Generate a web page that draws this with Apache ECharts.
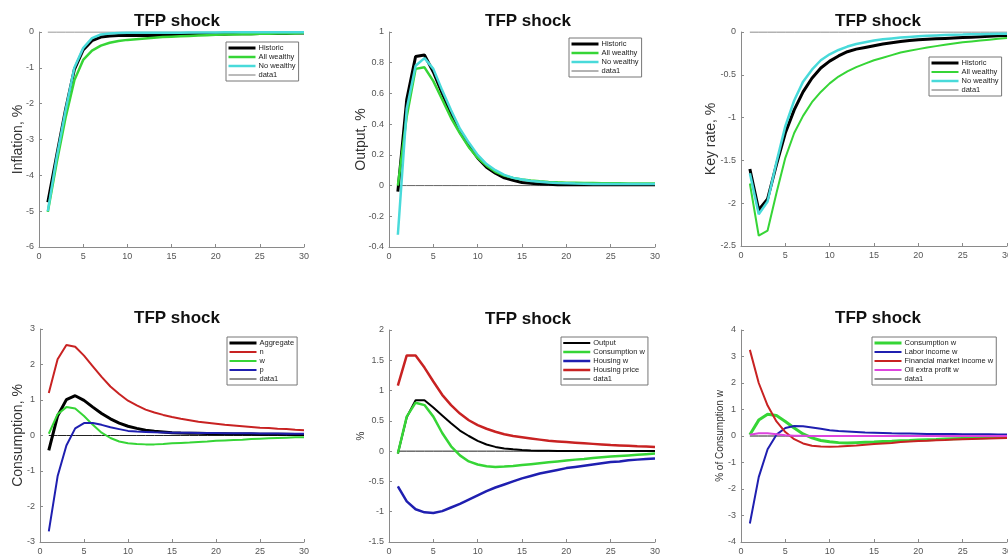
<!DOCTYPE html>
<html>
<head>
<meta charset="utf-8">
<script src="https://cdn.jsdelivr.net/npm/echarts@6/dist/echarts.min.js"></script>
<style>html,body{margin:0;padding:0;background:#fff}#c{width:1008px;height:558px}</style>
</head>
<body>
<div id="c"></div>
<script>
const periods = [1,2,3,4,5,6,7,8,9,10,11,12,13,14,15,16,17,18,19,20,21,22,23,24,25,26,27,28,29,30];
const xTicks = [0,5,10,15,20,25,30];
const zeroLine = [0,0,0,0,0,0,0,0,0,0,0,0,0,0,0,0,0,0,0,0,0,0,0,0,0,0,0,0,0,0];

// Panel 1: Inflation
const inflHistoric = [-4.75,-3.45,-2.17,-1.05,-0.5,-0.24,-0.14,-0.11,-0.1,-0.1,-0.1,-0.1,-0.1,-0.09,-0.09,-0.08,-0.08,-0.07,-0.07,-0.06,-0.06,-0.05,-0.05,-0.05,-0.04,-0.04,-0.04,-0.04,-0.03,-0.03];
const inflAllWealthy = [-5.02,-3.65,-2.4,-1.35,-0.78,-0.52,-0.38,-0.3,-0.25,-0.22,-0.2,-0.18,-0.16,-0.14,-0.13,-0.12,-0.11,-0.1,-0.09,-0.08,-0.07,-0.07,-0.06,-0.06,-0.05,-0.05,-0.04,-0.04,-0.04,-0.03];
const inflNoWealthy = [-5.0,-3.5,-2.2,-1.0,-0.45,-0.17,-0.07,-0.04,-0.03,-0.02,-0.02,-0.02,-0.02,-0.02,-0.02,-0.02,-0.015,-0.015,-0.015,-0.015,-0.01,-0.01,-0.01,-0.01,-0.01,-0.01,-0.01,-0.01,-0.01,-0.01];

// Panel 2: Output
const outHistoric = [-0.04,0.56,0.84,0.85,0.74,0.6,0.47,0.35,0.26,0.18,0.12,0.08,0.05,0.035,0.02,0.015,0.01,0.008,0.006,0.005,0.005,0.005,0.005,0.005,0.005,0.005,0.005,0.005,0.005,0.005];
const outAllWealthy = [0.0,0.45,0.76,0.77,0.68,0.56,0.44,0.34,0.25,0.18,0.13,0.09,0.065,0.05,0.04,0.033,0.028,0.024,0.021,0.019,0.018,0.017,0.016,0.015,0.015,0.015,0.014,0.014,0.014,0.014];
const outNoWealthy = [-0.32,0.5,0.78,0.83,0.76,0.62,0.49,0.37,0.28,0.2,0.14,0.1,0.07,0.05,0.04,0.03,0.025,0.02,0.017,0.015,0.013,0.012,0.011,0.01,0.01,0.01,0.01,0.01,0.01,0.01];

// Panel 3: Key rate
const rateHistoric = [-1.6,-2.08,-1.95,-1.55,-1.18,-0.91,-0.7,-0.54,-0.42,-0.34,-0.28,-0.23,-0.2,-0.18,-0.16,-0.14,-0.125,-0.11,-0.1,-0.09,-0.085,-0.08,-0.075,-0.07,-0.065,-0.06,-0.055,-0.05,-0.045,-0.04];
const rateAllWealthy = [-1.77,-2.38,-2.32,-1.88,-1.47,-1.18,-0.98,-0.82,-0.7,-0.6,-0.52,-0.46,-0.41,-0.37,-0.33,-0.3,-0.27,-0.24,-0.22,-0.2,-0.18,-0.165,-0.15,-0.135,-0.12,-0.11,-0.1,-0.09,-0.08,-0.07];
const rateNoWealthy = [-1.65,-2.13,-1.98,-1.52,-1.1,-0.8,-0.58,-0.44,-0.33,-0.26,-0.21,-0.17,-0.14,-0.12,-0.1,-0.085,-0.075,-0.065,-0.057,-0.05,-0.045,-0.04,-0.036,-0.032,-0.03,-0.027,-0.025,-0.023,-0.021,-0.02];

// Panel 4: Consumption
const consAggregate = [-0.42,0.55,1.01,1.12,0.99,0.8,0.62,0.47,0.35,0.26,0.2,0.15,0.12,0.1,0.08,0.07,0.065,0.06,0.055,0.05,0.048,0.045,0.042,0.04,0.038,0.036,0.034,0.032,0.03,0.03];
const consN = [1.2,2.15,2.55,2.5,2.25,1.95,1.65,1.38,1.17,0.98,0.85,0.73,0.65,0.58,0.52,0.47,0.43,0.39,0.36,0.33,0.3,0.28,0.26,0.24,0.22,0.21,0.19,0.18,0.16,0.15];
const consW = [0.05,0.6,0.8,0.76,0.55,0.3,0.08,-0.07,-0.17,-0.22,-0.24,-0.25,-0.25,-0.24,-0.22,-0.21,-0.2,-0.18,-0.17,-0.15,-0.14,-0.13,-0.12,-0.1,-0.09,-0.08,-0.07,-0.06,-0.05,-0.05];
const consP = [-2.7,-1.15,-0.28,0.2,0.35,0.35,0.3,0.23,0.18,0.13,0.11,0.1,0.09,0.085,0.08,0.078,0.075,0.072,0.07,0.068,0.066,0.064,0.062,0.06,0.058,0.056,0.054,0.052,0.05,0.05];

// Panel 5: %
const p5Output = [-0.04,0.56,0.84,0.84,0.72,0.59,0.46,0.34,0.25,0.17,0.11,0.07,0.045,0.03,0.02,0.012,0.008,0.006,0.004,0.003,0.002,0.002,0.002,0.002,0.002,0.002,0.002,0.002,0.002,0.002];
const p5ConsW = [-0.04,0.57,0.8,0.76,0.57,0.3,0.08,-0.07,-0.17,-0.22,-0.25,-0.26,-0.255,-0.245,-0.23,-0.215,-0.2,-0.185,-0.17,-0.155,-0.14,-0.13,-0.115,-0.1,-0.09,-0.08,-0.07,-0.06,-0.05,-0.04];
const p5HousingW = [-0.58,-0.83,-0.96,-1.01,-1.02,-0.99,-0.93,-0.87,-0.8,-0.73,-0.66,-0.6,-0.55,-0.5,-0.45,-0.41,-0.37,-0.34,-0.31,-0.28,-0.26,-0.24,-0.22,-0.2,-0.18,-0.17,-0.15,-0.14,-0.13,-0.12];
const p5HousingPrice = [1.08,1.58,1.58,1.38,1.15,0.93,0.76,0.62,0.51,0.43,0.37,0.32,0.28,0.25,0.23,0.21,0.19,0.17,0.16,0.15,0.14,0.13,0.12,0.11,0.1,0.095,0.09,0.08,0.075,0.07];

// Panel 6: % of Consumption w
const p6ConsW = [0.05,0.6,0.82,0.77,0.55,0.3,0.08,-0.07,-0.17,-0.22,-0.25,-0.26,-0.25,-0.24,-0.23,-0.21,-0.2,-0.18,-0.17,-0.15,-0.14,-0.13,-0.11,-0.1,-0.09,-0.08,-0.07,-0.06,-0.05,-0.04];
const p6Labor = [-3.3,-1.55,-0.5,0.05,0.3,0.38,0.37,0.32,0.27,0.22,0.19,0.17,0.15,0.13,0.12,0.11,0.1,0.095,0.09,0.085,0.08,0.077,0.074,0.071,0.068,0.066,0.064,0.062,0.06,0.06];
const p6Financial = [3.25,2.0,1.15,0.55,0.15,-0.12,-0.28,-0.37,-0.4,-0.41,-0.4,-0.38,-0.36,-0.33,-0.3,-0.28,-0.26,-0.23,-0.21,-0.19,-0.18,-0.16,-0.15,-0.13,-0.12,-0.11,-0.1,-0.09,-0.085,-0.08];
const p6Oil = [0.05,0.1,0.1,0.07,0.03,0.01,0.005,0,0,0,0,0,0,0,0,0,0,0,0,0,0,0,0,0,0,0,0,0,0,0];

const C = {black:'#000000', green:'#36d536', cyan:'#48dada', red:'#c82222', blue:'#1f1fb0', pink:'#dd44dd', data1:'#222222'};

const panels = [
  {grid:{left:39, top:32, width:265, height:215}, y:{min:-6, max:0, interval:1}, name:'Inflation, %', nameSize:14, nameGap:14,
   title:{x:172, y:8}, legend:{left:226, top:42},
   series:[['Historic',inflHistoric,C.black,3],['All wealthy',inflAllWealthy,C.green,2.5],['No wealthy',inflNoWealthy,C.cyan,2.5],['data1',zeroLine,'#777',1]]},
  {grid:{left:389, top:32, width:266, height:215}, y:{min:-0.4, max:1, interval:0.2}, name:'Output, %', nameSize:14, nameGap:21,
   title:{x:523, y:8}, legend:{left:569, top:38},
   series:[['Historic',outHistoric,C.black,3],['All wealthy',outAllWealthy,C.green,2.5],['No wealthy',outNoWealthy,C.cyan,2.5],['data1',zeroLine,'#666',1]]},
  {grid:{left:741, top:32, width:266, height:214}, y:{min:-2.5, max:0, interval:0.5}, name:'Key rate, %', nameSize:14, nameGap:23,
   title:{x:873, y:8}, legend:{left:929, top:57},
   series:[['Historic',rateHistoric,C.black,3],['All wealthy',rateAllWealthy,C.green,2],['No wealthy',rateNoWealthy,C.cyan,2.5],['data1',zeroLine,'#666',1]]},
  {grid:{left:40, top:329, width:264, height:213}, y:{min:-3, max:3, interval:1}, name:'Consumption, %', nameSize:14, nameGap:15,
   title:{x:172, y:305}, legend:{left:227, top:337},
   series:[['Aggregate',consAggregate,C.black,3],['n',consN,C.red,2],['w',consW,C.green,2],['p',consP,C.blue,2],['data1',zeroLine,C.data1,1]]},
  {grid:{left:389, top:330, width:266, height:212}, y:{min:-1.5, max:2, interval:0.5}, name:'%', nameSize:10, nameGap:23,
   title:{x:523, y:306}, legend:{left:561, top:337},
   series:[['Output',p5Output,C.black,2],['Consumption w',p5ConsW,C.green,2.5],['Housing w',p5HousingW,C.blue,2.5],['Housing price',p5HousingPrice,C.red,2.5],['data1',zeroLine,C.data1,1]]},
  {grid:{left:741, top:330, width:266, height:212}, y:{min:-4, max:4, interval:1}, name:'% of Consumption w', nameSize:10, nameGap:16,
   title:{x:873, y:305}, legend:{left:872, top:337},
   series:[['Consumption w',p6ConsW,C.green,3],['Labor income w',p6Labor,C.blue,2],['Financial market income w',p6Financial,C.red,2],['Oil extra profit w',p6Oil,C.pink,2],['data1',zeroLine,C.data1,1]]}
];

const FONT = 'Liberation Sans, Arial, sans-serif';
const axisCommon = {
  axisLine:{show:true, onZero:false, lineStyle:{color:'#8a8a8a', width:1}},
  axisTick:{show:true, inside:true, length:3, lineStyle:{color:'#8a8a8a'}},
  axisLabel:{color:'#555', fontSize:9, fontFamily:FONT, margin:5},
  splitLine:{show:false}
};

const option = {
  animation:false,
  backgroundColor:'#fff',
  title:[], grid:[], xAxis:[], yAxis:[], legend:[], series:[]
};

panels.forEach((p, i) => {
  option.title.push({text:'TFP shock', left:p.title.x, top:p.title.y, textAlign:'center',
    textStyle:{fontSize:17, fontWeight:'bold', color:'#111', fontFamily:FONT}});
  option.grid.push(Object.assign({containLabel:false, outerBoundsMode:'none'}, p.grid));
  option.xAxis.push(Object.assign({type:'value', gridIndex:i, min:xTicks[0], max:xTicks[xTicks.length-1], interval:5}, axisCommon));
  option.yAxis.push(Object.assign({type:'value', gridIndex:i, min:p.y.min, max:p.y.max, interval:p.y.interval,
    name:p.name, nameLocation:'middle', nameGap:p.nameGap, nameRotate:90, nameMoveOverlap:false,
    nameTextStyle:{fontSize:p.nameSize, color:'#333', fontFamily:FONT}}, axisCommon));
  option.legend.push({
    left:p.legend.left, top:p.legend.top, orient:'vertical',
    data:p.series.map(s => ({name:s[0], lineStyle:{color:s[2], width:Math.min(s[3], 3)}})),
    backgroundColor:'#fff', borderColor:'#777', borderWidth:1, borderRadius:0,
    padding:[2,3,2,1], itemGap:1, itemWidth:27, itemHeight:9,
    itemStyle:{color:'rgba(0,0,0,0)', borderColor:'rgba(0,0,0,0)', borderWidth:0},
    textStyle:{fontSize:7.5, color:'#222', fontFamily:FONT, padding:[0,0,0,-2]},
    selectedMode:false
  });
  p.series.forEach(s => {
    option.series.push({
      name:s[0], type:'line', xAxisIndex:i, yAxisIndex:i,
      data:periods.map((x, k) => [x, s[1][k]]),
      symbol:'none', showSymbol:false,
      lineStyle:{color:s[2], width:s[3]}, itemStyle:{color:s[2]},
      z: s[0]==='data1' ? 1 : 2
    });
  });
});

const chart = echarts.init(document.getElementById('c'), null, {renderer:'canvas'});
chart.setOption(option);
</script>
</body>
</html>
